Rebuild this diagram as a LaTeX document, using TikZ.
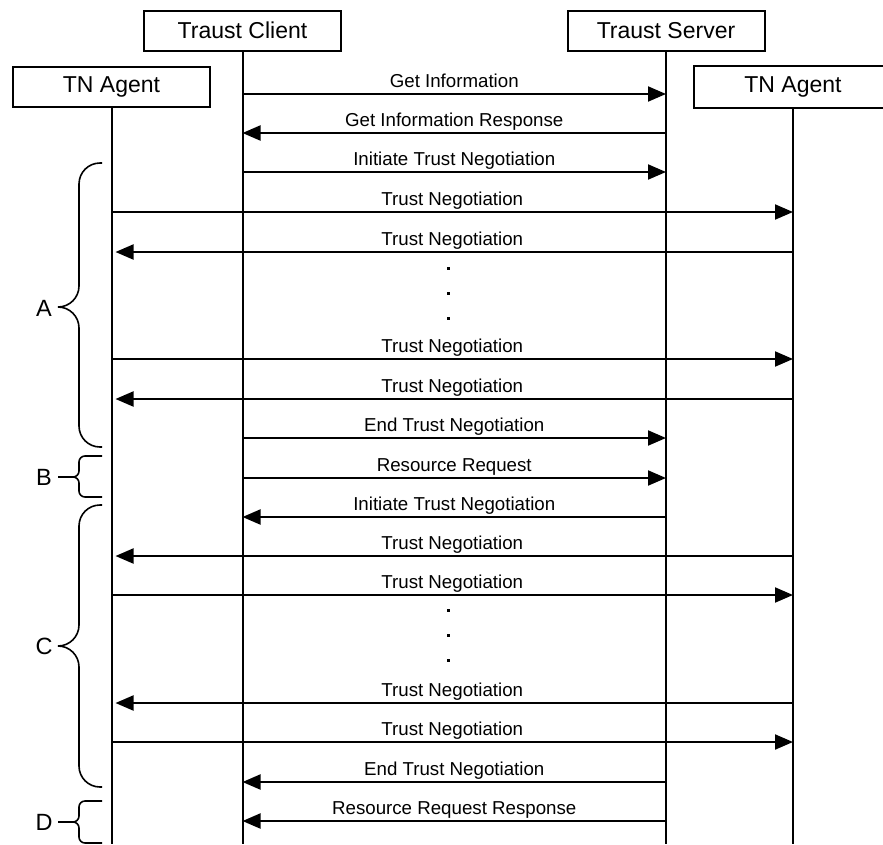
\documentclass[tikz,border=0pt]{standalone}
\usepackage{fontspec}
\setmainfont{Liberation Sans}
\usetikzlibrary{arrows.meta}

\tikzset{
  actor/.style={draw,line width=2pt,minimum width=197pt,minimum height=40pt,
    inner sep=0pt,font=\fontsize{23}{26}\selectfont},
  life/.style={line width=2pt},
  msg/.style={line width=2pt,-{Triangle[length=18pt,width=15pt]}},
  msglab/.style={anchor=base,yshift=7pt,font=\fontsize{18.7}{21}\selectfont},
  phase/.style={font=\fontsize{23.5}{26}\selectfont,inner sep=0pt},
  brc/.style={line width=1.6pt}
}

\begin{document}
\begin{tikzpicture}[x=1pt,y=-1pt]
  \useasboundingbox (0,0) rectangle (883,844);
  \clip (0,0) rectangle (883,844);
  % Teilnehmer
  \node[actor] (tc) at (242.5,30.5) {Traust Client};
  \node[actor] (ts) at (666,30.5) {Traust Server};
  \node[actor] (la) at (111.5,87) {TN Agent};
  \node[actor,draw=none] (ra) at (793,87) {TN Agent};
  % rechter Rand liegt ausserhalb des Bildes
  \draw[life] ([xshift=30pt]ra.north east) -- (ra.north west) -- (ra.south west) -- ([xshift=30pt]ra.south east);
  % Lebenslinien
  \draw[life] (tc.south) -- (tc.south |- 0,844);
  \draw[life] (ts.south) -- (ts.south |- 0,844);
  \draw[life] (la.south) -- (la.south |- 0,844);
  \draw[life] (ra.south) -- (ra.south |- 0,844);
  % Nachrichten
  \draw[msg] (tc |- 0,94) -- (ts |- 0,94) node[msglab,midway] {Get Information};
  \draw[msg] (ts |- 0,133) -- (tc |- 0,133) node[msglab,midway] {Get Information Response};
  \draw[msg] (tc |- 0,172) -- (ts |- 0,172) node[msglab,midway] {Initiate Trust Negotiation};
  \draw[msg] (la |- 0,212) -- (ra |- 0,212) node[msglab,midway] {Trust Negotiation};
  \draw[msg,shorten >=4pt] (ra |- 0,252) -- (la |- 0,252) node[msglab,midway] {Trust Negotiation};
  \draw[msg] (la |- 0,359) -- (ra |- 0,359) node[msglab,midway] {Trust Negotiation};
  \draw[msg,shorten >=4pt] (ra |- 0,399) -- (la |- 0,399) node[msglab,midway] {Trust Negotiation};
  \draw[msg] (tc |- 0,438) -- (ts |- 0,438) node[msglab,midway] {End Trust Negotiation};
  \draw[msg] (tc |- 0,478) -- (ts |- 0,478) node[msglab,midway] {Resource Request};
  \draw[msg] (ts |- 0,517) -- (tc |- 0,517) node[msglab,midway] {Initiate Trust Negotiation};
  \draw[msg,shorten >=4pt] (ra |- 0,556) -- (la |- 0,556) node[msglab,midway] {Trust Negotiation};
  \draw[msg] (la |- 0,595) -- (ra |- 0,595) node[msglab,midway] {Trust Negotiation};
  \draw[msg,shorten >=4pt] (ra |- 0,703) -- (la |- 0,703) node[msglab,midway] {Trust Negotiation};
  \draw[msg] (la |- 0,742) -- (ra |- 0,742) node[msglab,midway] {Trust Negotiation};
  \draw[msg] (ts |- 0,782) -- (tc |- 0,782) node[msglab,midway] {End Trust Negotiation};
  \draw[msg] (ts |- 0,821) -- (tc |- 0,821) node[msglab,midway] {Resource Request Response};
  % Punkte
  \fill (446.5,266.5) rectangle ++(3,3);
  \fill (446.5,291.5) rectangle ++(3,3);
  \fill (446.5,316.5) rectangle ++(3,3);
  \fill (446.5,608.5) rectangle ++(3,3);
  \fill (446.5,633.5) rectangle ++(3,3);
  \fill (446.5,658.5) rectangle ++(3,3);
  % Phasen
  \node[phase] (pA) at (44,308) {A};
  \node[phase] (pB) at (44,477) {B};
  \node[phase] (pC) at (44,646) {C};
  \node[phase] (pD) at (44,822) {D};
  \draw[brc,rounded corners=21pt] (102,163) -- (79,163) -- (79,307) -- (58,307);
  \draw[brc,rounded corners=21pt] (102,447) -- (79,447) -- (79,307) -- (58,307);
  \draw[brc,rounded corners=6pt] (102,456) -- (79,456) -- (79,477) -- (58,477);
  \draw[brc,rounded corners=6pt] (102,497) -- (79,497) -- (79,477) -- (58,477);
  \draw[brc,rounded corners=21pt] (102,505) -- (79,505) -- (79,646) -- (58,646);
  \draw[brc,rounded corners=21pt] (102,787) -- (79,787) -- (79,646) -- (58,646);
  \draw[brc,rounded corners=6pt] (102,801) -- (79,801) -- (79,822) -- (58,822);
  \draw[brc,rounded corners=6pt] (102,843) -- (79,843) -- (79,822) -- (58,822);
\end{tikzpicture}
\end{document}
